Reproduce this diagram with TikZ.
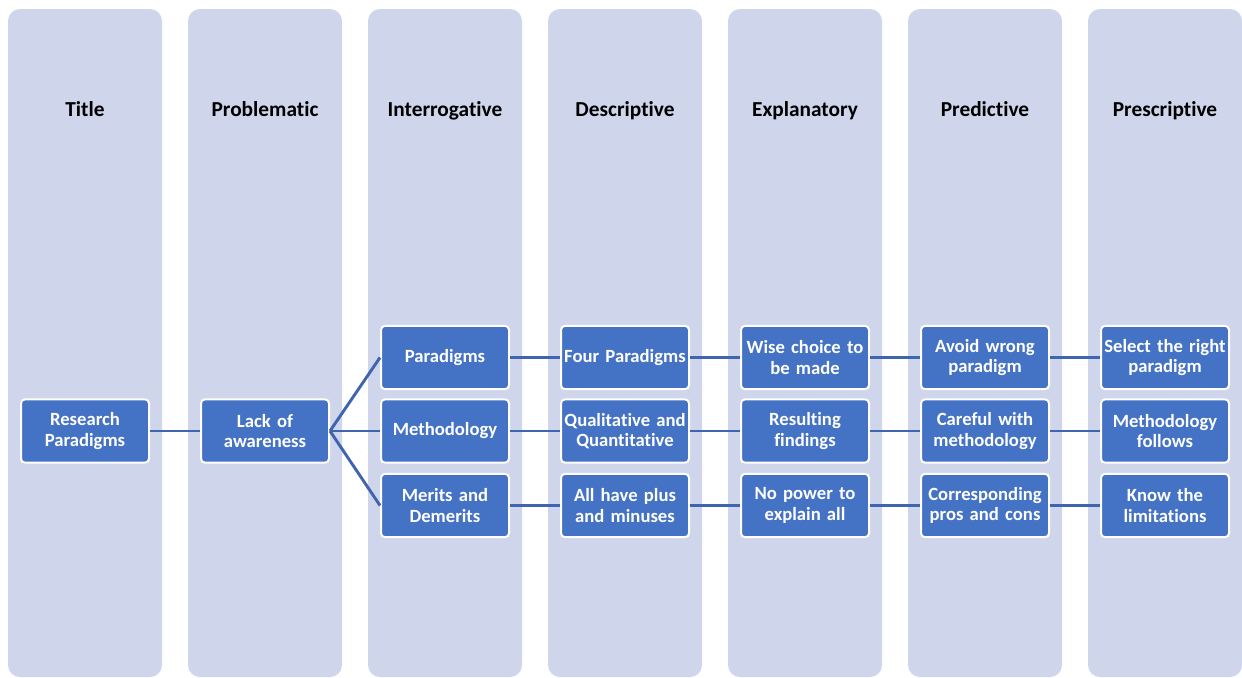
\documentclass[tikz,border=0pt]{standalone}
\usepackage{fontspec}
\setmainfont{Carlito}[Ligatures={NoCommon}]
\definecolor{colbg}{HTML}{CFD5EA}
\definecolor{boxfill}{HTML}{4472C4}
\definecolor{linkcol}{HTML}{3F65B0}
\tikzset{
  column/.style={fill=colbg, draw=none, rounded corners=9pt},
  stage/.style={font=\fontsize{16}{19}\selectfont\bfseries, text=black, anchor=base},
  itembox/.style={rectangle, rounded corners=3pt, fill=boxfill, draw=white, line width=1.5pt,
    minimum width=96pt, minimum height=47.5pt, text width=94pt, inner sep=0pt, align=center,
    text=white, font=\fontsize{14}{15.3}\selectfont\bfseries},
  link/.style={draw=linkcol, line width=2.2pt}
}
\begin{document}
\begin{tikzpicture}[x=0.75pt,y=-0.75pt]
\useasboundingbox (0,0) rectangle (1242,678);
% columns
\foreach \i in {0,...,6} {
  \fill[column] ({8+180*\i},9) rectangle ({162+180*\i},677);
}
% titles
\node[stage] (t1) at (85,116) {Title};
\node[stage] (t2) at (265,116) {Problematic};
\node[stage] (t3) at (445,116) {Interrogative};
\node[stage] (t4) at (625,116) {Descriptive};
\node[stage] (t5) at (805,116) {Explanatory};
\node[stage] (t6) at (985,116) {Predictive};
\node[stage] (t7) at (1165,116) {Prescriptive};
% boxes
\node[itembox] (rp) at (85,431) {Research\\Paradigms};
\node[itembox] (la) at (265,431) {Lack of\\awareness};
\node[itembox] (a1) at (445,357.5) {Paradigms};
\node[itembox] (a2) at (445,431) {Methodology};
\node[itembox] (a3) at (445,505.5) {Merits and\\Demerits};
\node[itembox] (b1) at (625,357.5) {Four Paradigms};
\node[itembox] (b2) at (625,431) {Qualitative and\\Quantitative};
\node[itembox] (b3) at (625,505.5) {All have plus\\and minuses};
\node[itembox] (c1) at (805,357.5) {Wise choice to\\be made};
\node[itembox] (c2) at (805,431) {Resulting\\findings};
\node[itembox] (c3) at (805,505.5) {No power to\\explain all};
\node[itembox] (d1) at (985,357.5) {Avoid wrong\\paradigm};
\node[itembox] (d2) at (985,431) {Careful with\\methodology};
\node[itembox] (d3) at (985,505.5) {Corresponding\\pros and cons};
\node[itembox] (e1) at (1165,357.5) {Select the right\\paradigm};
\node[itembox] (e2) at (1165,431) {Methodology\\follows};
\node[itembox] (e3) at (1165,505.5) {Know the\\limitations};
% connectors
\draw[link] (rp.east) -- (la.west);
\draw[link] (la.east) -- (a1.west);
\draw[link] (la.east) -- (a2.west);
\draw[link] (la.east) -- (a3.west);
\foreach \r in {1,2,3} {
  \draw[link] (a\r.east) -- (b\r.west);
  \draw[link] (b\r.east) -- (c\r.west);
  \draw[link] (c\r.east) -- (d\r.west);
  \draw[link] (d\r.east) -- (e\r.west);
}
\end{tikzpicture}
\end{document}
